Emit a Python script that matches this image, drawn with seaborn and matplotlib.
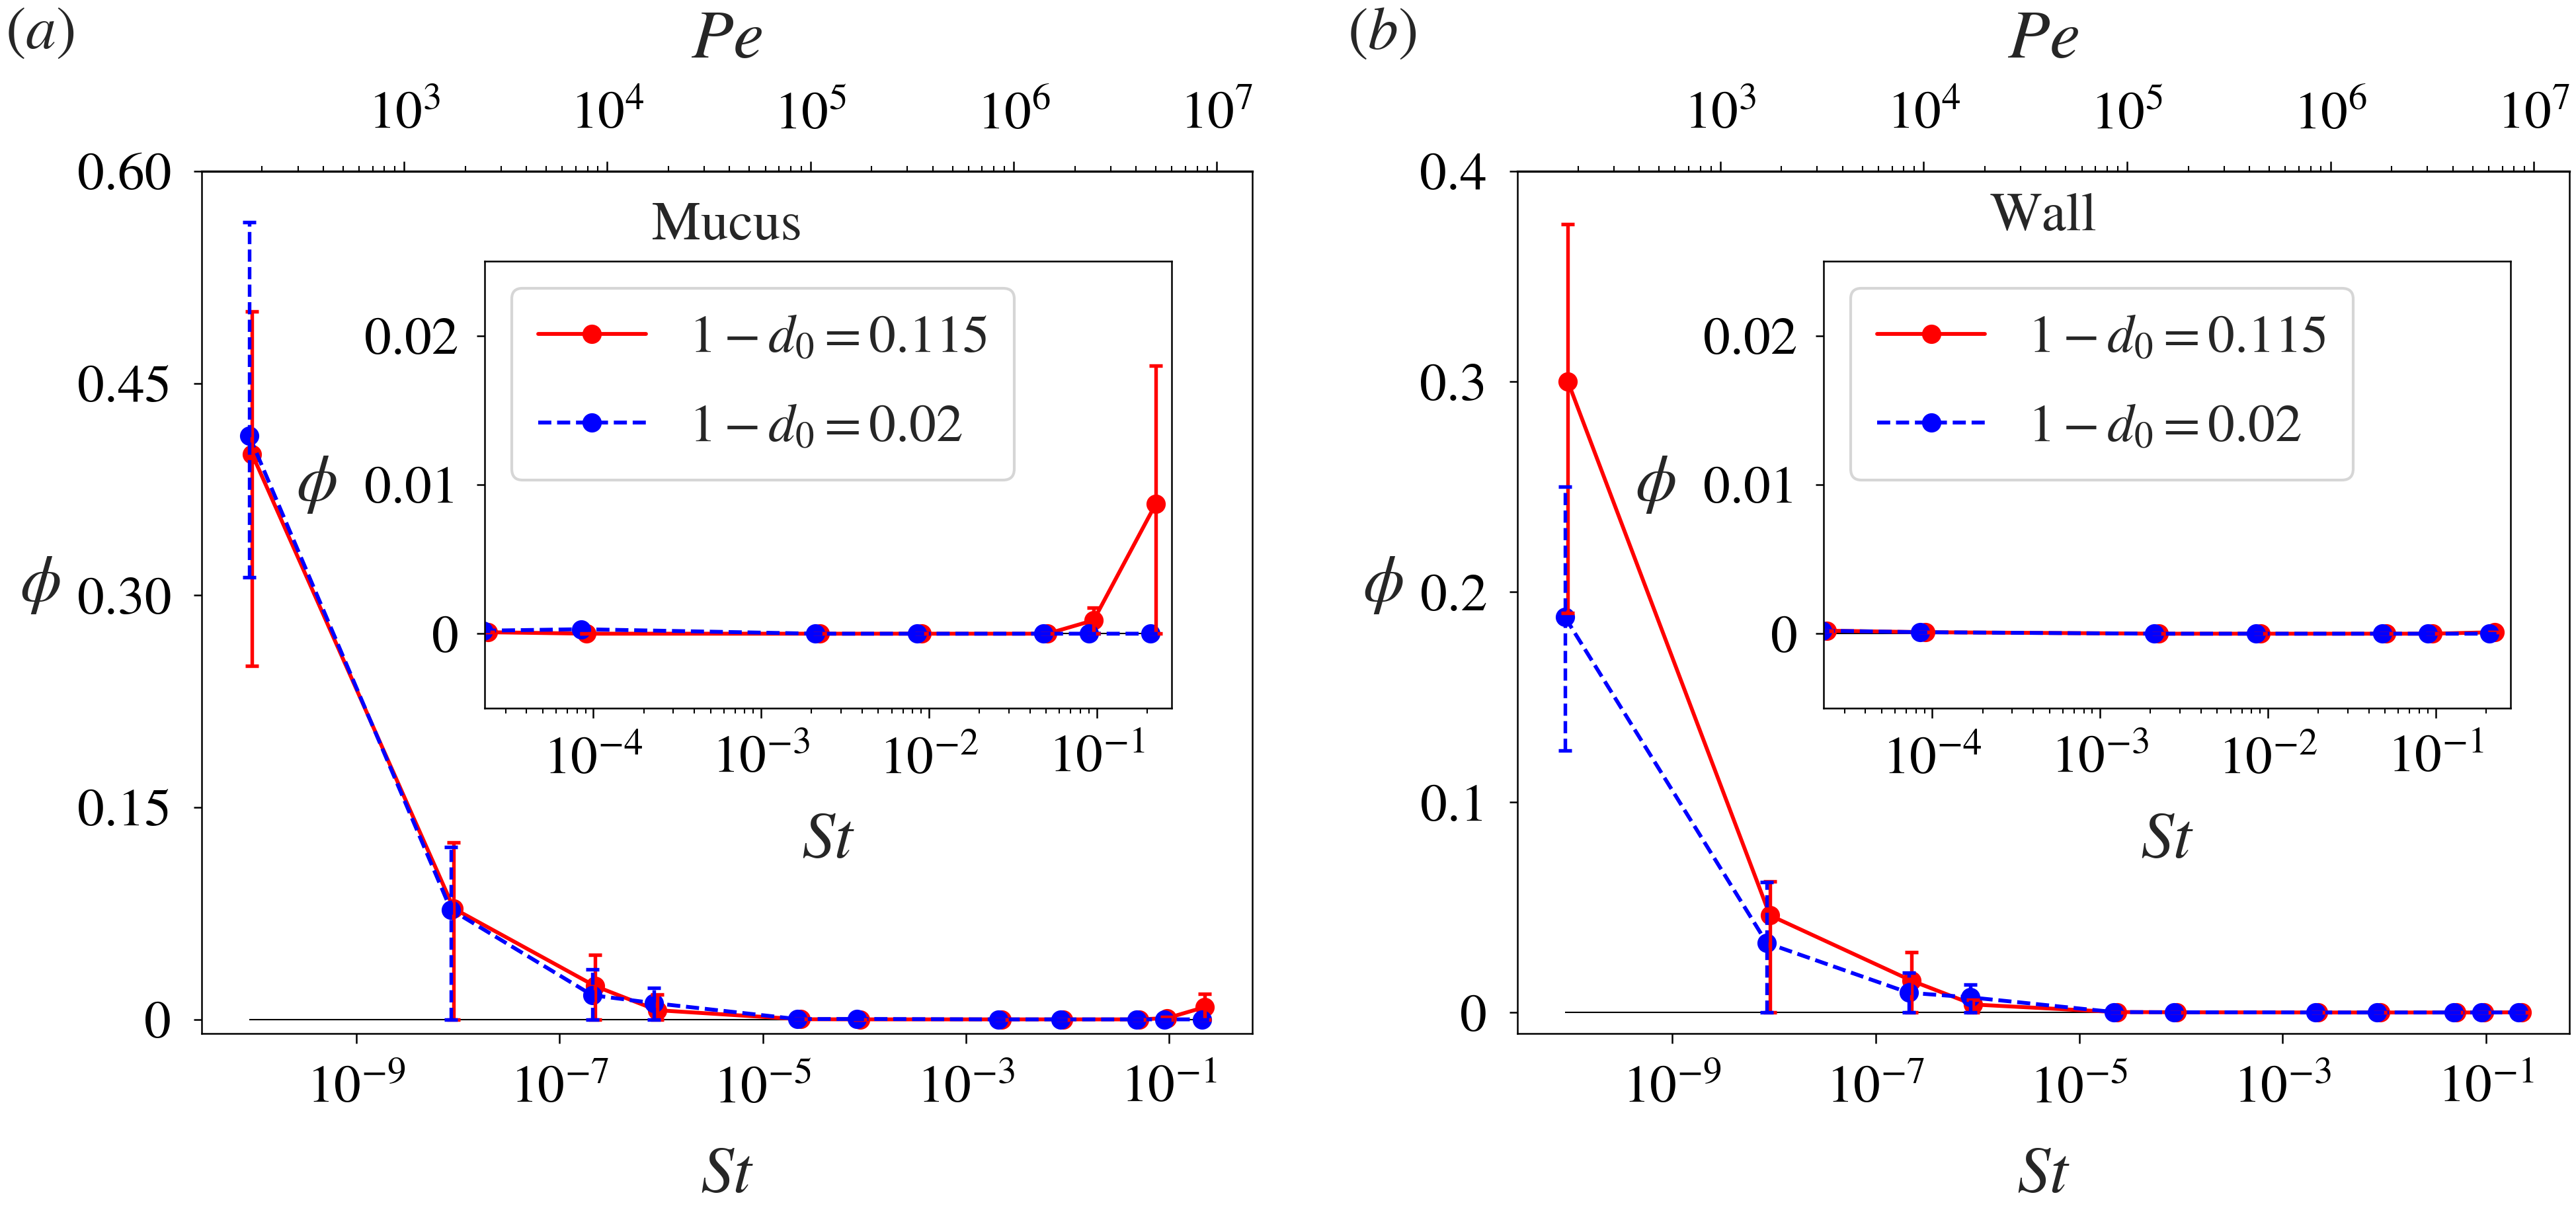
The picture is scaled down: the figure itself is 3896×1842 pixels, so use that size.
import numpy as np
import pandas as pd
import matplotlib
matplotlib.use("Agg")
import matplotlib.pyplot as plt
import seaborn as sns

# ---- data -------------------------------------------------------------
LAB_115 = r"$1-d_0=0.115$"
LAB_02 = r"$1-d_0=0.02$"

# Stokes numbers (the 0.115 case sits slightly to the right)
st_115 = [9.4e-11, 9.1e-9, 2.25e-7, 9.1e-7, 2.35e-5, 9.1e-5, 2.25e-3, 9.1e-3, 5.1e-2, 9.6e-2, 2.25e-1]
st_02 = [8.8e-11, 8.5e-9, 2.1e-7, 8.5e-7, 2.2e-5, 8.5e-5, 2.1e-3, 8.5e-3, 4.8e-2, 9.0e-2, 2.1e-1]

# (a) Mucus
mucus_115 = [0.400, 0.0784, 0.0235, 0.0065, 0.0001, 0.0, 0.0, 0.0, 0.0, 0.0009, 0.0087]
mucus_115_lo = [0.250, 0.0, 0.0, 0.0, 0.0001, 0.0, 0.0, 0.0, 0.0, 0.0, 0.0]
mucus_115_hi = [0.501, 0.125, 0.0458, 0.0178, 0.0001, 0.0, 0.0, 0.0, 0.0, 0.00175, 0.018]
mucus_02 = [0.413, 0.0777, 0.0171, 0.0115, 0.0002, 0.0003, 0.0, 0.0, 0.0, 0.0, 0.0]
mucus_02_lo = [0.313, 0.0, 0.0, 0.0, 0.0002, 0.0003, 0.0, 0.0, 0.0, 0.0, 0.0]
mucus_02_hi = [0.564, 0.122, 0.0355, 0.0224, 0.0002, 0.0003, 0.0, 0.0, 0.0, 0.0, 0.0]

# (b) Wall
wall_115 = [0.300, 0.0462, 0.0151, 0.0038, 0.0002, 0.0001, 0.0, 0.0, 0.0, 0.0, 0.0001]
wall_115_lo = [0.190, 0.0, 0.0, 0.0, 0.0002, 0.0001, 0.0, 0.0, 0.0, 0.0, 0.0001]
wall_115_hi = [0.375, 0.0623, 0.0287, 0.0060, 0.0002, 0.0001, 0.0, 0.0, 0.0, 0.0, 0.0001]
wall_02 = [0.188, 0.033, 0.0094, 0.0072, 0.0002, 0.0001, 0.0, 0.0, 0.0, 0.0, 0.0]
wall_02_lo = [0.1245, 0.0, 0.0, 0.0, 0.0002, 0.0001, 0.0, 0.0, 0.0, 0.0, 0.0]
wall_02_hi = [0.250, 0.062, 0.019, 0.0132, 0.0002, 0.0001, 0.0, 0.0, 0.0, 0.0, 0.0]

main_yticks_a = [0, 0.15, 0.30, 0.45, 0.60]
main_ylabels_a = ["0", "0.15", "0.30", "0.45", "0.60"]
main_yticks_b = [0, 0.1, 0.2, 0.3, 0.4]
main_ylabels_b = ["0", "0.1", "0.2", "0.3", "0.4"]
inset_yticks = [0, 0.01, 0.02]
inset_ylabels = ["0", "0.01", "0.02"]
st_major = [1e-9, 1e-7, 1e-5, 1e-3, 1e-1]

COLORS = {LAB_115: "#ff0000", LAB_02: "#0000ff"}
PE_C = 10 ** 7.265  # Pe = C * sqrt(St)

# ---- style ------------------------------------------------------------
sns.set_style("ticks")
plt.rcParams.update({
    "font.family": ["STIXGeneral", "DejaVu Serif"],
    "mathtext.fontset": "stix",
    "font.size": 19.5,
    "axes.edgecolor": "black",
    "axes.linewidth": 0.6,
    "xtick.color": "black",
    "ytick.color": "black",
    "xtick.labelsize": 19.5,
    "ytick.labelsize": 19.5,
    "xtick.major.width": 0.6,
    "ytick.major.width": 0.6,
    "xtick.minor.width": 0.5,
    "xtick.major.size": 3.5,
    "ytick.major.size": 3.0,
    "xtick.minor.size": 2.0,
    "axes.spines.top": True,
    "axes.spines.right": True,
})


def make_df(s1, y1, s2, y2):
    return pd.DataFrame({
        "St": list(s1) + list(s2),
        "phi": list(y1) + list(y2),
        "case": [LAB_115] * len(s1) + [LAB_02] * len(s2),
    })


def draw_series(ax, df, errs, start=0, legend=False):
    sub = df.groupby("case", group_keys=False).apply(lambda g: g.iloc[start:])
    sns.lineplot(data=sub, x="St", y="phi", hue="case", style="case",
                 hue_order=[LAB_115, LAB_02], palette=COLORS,
                 dashes={LAB_115: "", LAB_02: (3.4, 1.5)},
                 markers={LAB_115: "o", LAB_02: "o"},
                 markersize=7, markeredgewidth=0, linewidth=1.4,
                 estimator=None, sort=False, legend=legend, ax=ax)
    for lab, (st, y, lo, hi) in errs.items():
        st, y, lo, hi = [np.asarray(v)[start:] for v in (st, y, lo, hi)]
        eb = ax.errorbar(st, y, yerr=[y - lo, hi - y], fmt="none",
                         ecolor=COLORS[lab], elinewidth=1.3, capsize=2.3,
                         capthick=1.3, zorder=2.1)
        if lab == LAB_02:
            eb[2][0].set_linestyle((0, (3.4, 1.5)))
    ax.hlines(0, st_02[0], st_115[-1], colors="k", lw=0.5, zorder=1.5)


def st2pe(s):
    return PE_C * np.sqrt(np.clip(s, 1e-300, None))


def pe2st(p):
    return (np.asarray(p) / PE_C) ** 2


fig = plt.figure(figsize=(3896 / 300, 1842 / 300), dpi=300)

panels = [
    dict(main=[0.07829, 0.15147, 0.40785, 0.70792], inset=[0.18814, 0.41857, 0.26668, 0.36699],
         y115=(mucus_115, mucus_115_lo, mucus_115_hi), y02=(mucus_02, mucus_02_lo, mucus_02_hi),
         ylim=(-0.01, 0.6), yticks=main_yticks_a, ylabels=main_ylabels_a,
         name="Mucus", name_y=0.921, tag="$(a)$", tag_x=0.002),
    dict(main=[0.58907, 0.15147, 0.40836, 0.70792], inset=[0.70791, 0.41857, 0.26668, 0.36699],
         y115=(wall_115, wall_115_lo, wall_115_hi), y02=(wall_02, wall_02_lo, wall_02_hi),
         ylim=(-0.01, 0.4), yticks=main_yticks_b, ylabels=main_ylabels_b,
         name="Wall", name_y=0.932, tag="$(b)$", tag_x=0.523),
]

for p in panels:
    df = make_df(st_115, p["y115"][0], st_02, p["y02"][0])
    errs = {LAB_115: (st_115,) + p["y115"], LAB_02: (st_02,) + p["y02"]}

    # main axes
    ax = fig.add_axes(p["main"])
    ax.set_xscale("log")
    draw_series(ax, df, errs)
    ax.set_xlim(3.0e-11, 0.66)
    ax.set_ylim(*p["ylim"])
    ax.set_xticks(st_major)
    ax.xaxis.set_minor_locator(matplotlib.ticker.NullLocator())
    ax.set_yticks(p["yticks"])
    ax.set_yticklabels(p["ylabels"])
    ax.tick_params(axis="both", which="major", pad=8)
    ax.set_xlabel("$St$", fontsize=24, labelpad=12)
    ax.set_ylabel(r"$\phi$", fontsize=24, rotation=0, ha="right", va="center", labelpad=6)
    ax.yaxis.label.set_y(0.52)
    ax.text(0.5, p["name_y"], p["name"], transform=ax.transAxes,
            ha="center", va="baseline", fontsize=20)

    sec = ax.secondary_xaxis("top", functions=(st2pe, pe2st))
    sec.tick_params(axis="x", which="major", pad=8)
    sec.set_xlabel("$Pe$", fontsize=25, labelpad=12)
    sec.spines["top"].set_linewidth(0.8)

    fig.text(p["tag_x"], 0.994, p["tag"], ha="left", va="top", fontsize=22)

    # inset
    axi = fig.add_axes(p["inset"])
    axi.set_xscale("log")
    draw_series(axi, df, errs, start=4, legend=True)
    axi.set_xlim(2.25e-5, 0.28)
    axi.set_ylim(-0.005, 0.025)
    axi.set_yticks(inset_yticks)
    axi.set_yticklabels(inset_ylabels)
    axi.tick_params(axis="both", which="major", pad=6.5)
    axi.set_xlabel("$St$", fontsize=24, labelpad=10)
    axi.set_ylabel(r"$\phi$", fontsize=24, rotation=0, ha="right", va="center", labelpad=10)
    handles, labels = axi.get_legend_handles_labels()
    axi.legend(handles, labels, loc="upper left", fontsize=19.5, handlelength=2.0,
               labelspacing=0.75, borderpad=0.5)

fig.savefig("out.png", dpi=300)
